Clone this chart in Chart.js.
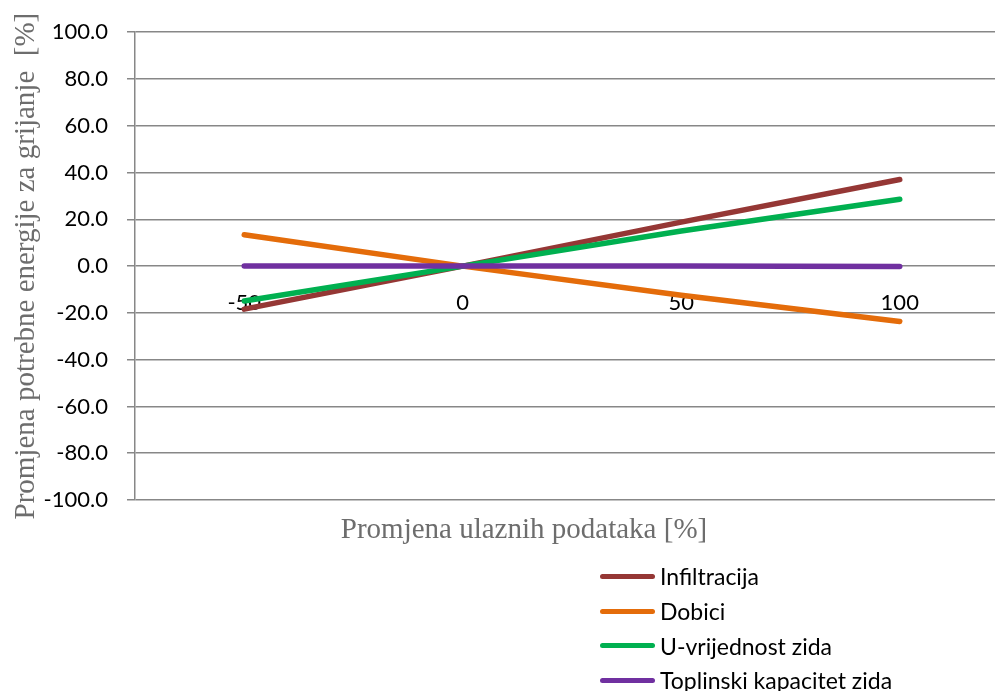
<!DOCTYPE html>
<html>
<head>
<meta charset="utf-8">
<script src="https://cdn.jsdelivr.net/npm/chart.js@4/dist/chart.umd.min.js"></script>
<style>
  html, body { margin: 0; padding: 0; overflow: hidden; background: #fff; width: 995px; height: 691px; }
  #wrap { position: relative; width: 995px; height: 691px; overflow: hidden; }
  #c { position: absolute; left: 0; top: 0; }
  #xtitle { position: absolute; top: 512px; left: 274px; width: 500px; text-align: center;
            font-family: "Liberation Serif", "Times New Roman", serif; font-size: 29px; color: #6d6d6d; white-space: nowrap; }
  #legend { position: absolute; left: 600px; top: 559px; font-family: Lato, "Noto Sans", sans-serif; font-size: 23px; color: #000; }
  .li { display: flex; align-items: center; height: 34.7px; }
  .sw { width: 55px; height: 5px; border-radius: 3px; margin-right: 5px; }
</style>
</head>
<body>
<div id="wrap">
  <canvas id="c" width="1010" height="691" style="width:1010px;height:691px"></canvas>
  <div id="xtitle">Promjena ulaznih podataka [%]</div>
  <div id="legend"></div>
</div>
<script>
const categories = ['-50', '0', '50', '100'];
const infiltracija = [-18.4, 0, 18.8, 37.0];
const dobici = [13.4, 0, -12.5, -23.7];
const uVrijednostZida = [-14.9, 0, 15.0, 28.6];
const toplinskiKapacitetZida = [0, 0, 0, -0.2];
const seriesNames = ['Infiltracija', 'Dobici', 'U-vrijednost zida', 'Toplinski kapacitet zida'];
const seriesColors = ['#953735', '#E46C0A', '#00B050', '#7030A0'];
const yTickValues = [-100, -80, -60, -40, -20, 0, 20, 40, 60, 80, 100];

const seriesData = [infiltracija, dobici, uVrijednostZida, toplinskiKapacitetZida];
const datasets = seriesData.map((d, i) => ({
  label: seriesNames[i],
  data: d,
  borderColor: seriesColors[i],
  backgroundColor: seriesColors[i],
  borderWidth: 5.5,
  borderCapStyle: 'round',
  borderJoinStyle: 'round',
  pointRadius: 0,
  pointHoverRadius: 0,
  tension: 0,
  fill: false,
  order: seriesData.length - i
}));

const gridGray = '#878787';

new Chart(document.getElementById('c'), {
  type: 'line',
  data: { labels: categories, datasets },
  options: {
    responsive: false,
    animation: false,
    layout: { padding: { left: 0, top: 32, right: 1, bottom: 191 } },
    plugins: { legend: { display: false }, tooltip: { enabled: false } },
    scales: {
      x: {
        type: 'category',
        offset: true,
        position: { y: 0 },
        z: 1,
        grid: { display: false, drawTicks: false, tickLength: 0 },
        border: { display: false },
        ticks: { color: '#000', font: { family: 'Lato, "Noto Sans", sans-serif', size: 22 }, padding: 24, maxRotation: 0, autoSkip: false }
      },
      y: {
        min: -100,
        max: 100,
        afterBuildTicks: (s) => { s.ticks = yTickValues.map(v => ({ value: v })); },
        afterFit: (s) => { s.width = 135; },
        grid: { color: gridGray, lineWidth: 1.5, drawTicks: true, tickLength: 8, tickColor: gridGray },
        border: { display: true, color: gridGray, width: 1.5 },
        ticks: {
          color: '#000',
          font: { family: 'Lato, "Noto Sans", sans-serif', size: 22 },
          padding: 19,
          callback: (v) => Number(v).toFixed(1)
        },
        title: {
          display: true,
          text: 'Promjena potrebne energije za grijanje  [%]',
          color: '#6d6d6d',
          font: { family: '"Liberation Serif", "Times New Roman", serif', size: 29, weight: 'normal' },
          padding: { top: 9, bottom: 0 }
        }
      }
    }
  }
});

const legend = document.getElementById('legend');
seriesNames.forEach((n, i) => {
  const row = document.createElement('div');
  row.className = 'li';
  const sw = document.createElement('div');
  sw.className = 'sw';
  sw.style.background = seriesColors[i];
  const t = document.createElement('span');
  t.textContent = n;
  row.appendChild(sw);
  row.appendChild(t);
  legend.appendChild(row);
});
</script>
</body>
</html>
